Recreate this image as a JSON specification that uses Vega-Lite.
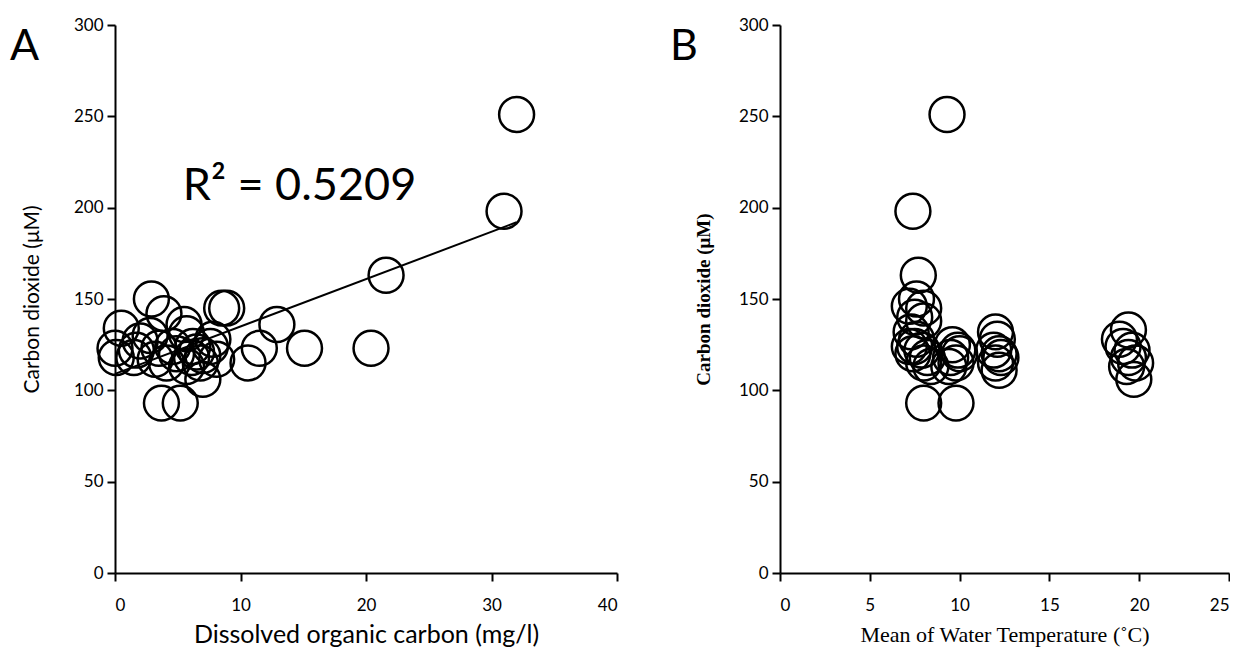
{
  "$schema": "https://vega.github.io/schema/vega-lite/v6.json",
  "background": "white",
  "padding": {"left": 10, "top": 16, "right": 0, "bottom": 2},
  "spacing": 163,
  "bounds": "flush",
  "config": {
    "view": {"stroke": null},
    "axis": {
      "grid": false,
      "domainColor": "#000",
      "domainWidth": 2,
      "tickColor": "#000",
      "tickWidth": 2,
      "tickSize": 8,
      "labelColor": "#000",
      "labelFont": "Lato",
      "labelFontSize": 17,
      "labelFontWeight": "normal",
      "titleColor": "#000",
      "titleFontWeight": "normal"
    },
    "title": {"color": "#000", "fontWeight": "normal", "font": "Lato", "fontSize": 43}
  },
  "hconcat": [
    {
      "width": 502,
      "height": 548,
      "title": {"text": "A", "anchor": "start", "frame": "group", "dx": -105, "dy": 57},
      "encoding": {
        "x": {
          "field": "doc",
          "type": "quantitative",
          "scale": {"domain": [0, 40], "nice": false, "zero": false},
          "axis": {"values": [0, 10, 20, 30, 40], "title": "Dissolved organic carbon (mg/l)", "titleFont": "Lato", "titleFontSize": 25, "labelPadding": 16, "titlePadding": 9}
        },
        "y": {
          "field": "co2",
          "type": "quantitative",
          "scale": {"domain": [0, 300], "nice": false},
          "axis": {"values": [0, 50, 100, 150, 200, 250, 300], "title": "Carbon dioxide (μM)", "titleFont": "Lato", "titleFontSize": 21, "labelPadding": 4, "titlePadding": 31}
        }
      },
      "layer": [
        {
          "data": {"values": [
            {"doc": 32.0, "co2": 251}, {"doc": 31.0, "co2": 198}, {"doc": 21.6, "co2": 163},
            {"doc": 20.4, "co2": 123}, {"doc": 15.1, "co2": 123}, {"doc": 12.9, "co2": 136},
            {"doc": 11.5, "co2": 123}, {"doc": 10.6, "co2": 115}, {"doc": 8.5, "co2": 145},
            {"doc": 8.9, "co2": 145}, {"doc": 3.7, "co2": 93}, {"doc": 5.2, "co2": 93},
            {"doc": 2.9, "co2": 150}, {"doc": 3.9, "co2": 142}, {"doc": 0.5, "co2": 134},
            {"doc": 0.0, "co2": 123}, {"doc": 0.1, "co2": 118}, {"doc": 2.8, "co2": 130},
            {"doc": 2.0, "co2": 127}, {"doc": 1.7, "co2": 122}, {"doc": 1.5, "co2": 118},
            {"doc": 3.5, "co2": 123}, {"doc": 3.2, "co2": 117}, {"doc": 4.1, "co2": 115},
            {"doc": 5.5, "co2": 136}, {"doc": 5.7, "co2": 131}, {"doc": 6.2, "co2": 124},
            {"doc": 6.1, "co2": 118}, {"doc": 6.8, "co2": 115}, {"doc": 5.7, "co2": 113},
            {"doc": 7.0, "co2": 106}, {"doc": 7.6, "co2": 124}, {"doc": 7.8, "co2": 128},
            {"doc": 7.0, "co2": 119}, {"doc": 8.1, "co2": 117}, {"doc": 4.9, "co2": 120},
            {"doc": 4.6, "co2": 124}, {"doc": 6.5, "co2": 121}
          ]},
          "mark": {"type": "point", "shape": "circle", "filled": false, "stroke": "#000", "strokeWidth": 2.5, "size": 1220, "opacity": 1}
        },
        {
          "data": {"values": [{"doc": 0, "co2": 109}, {"doc": 32, "co2": 192}]},
          "mark": {"type": "line", "color": "#000", "strokeWidth": 2}
        },
        {
          "data": {"values": [{"doc": 14.7, "co2": 204, "label": "R² = 0.5209"}]},
          "mark": {"type": "text", "font": "Lato", "fontSize": 45, "baseline": "alphabetic", "align": "center", "color": "#000"},
          "encoding": {"text": {"field": "label", "type": "nominal"}}
        }
      ]
    },
    {
      "width": 449,
      "height": 548,
      "title": {"text": "B", "anchor": "start", "frame": "group", "dx": -110, "dy": 57},
      "data": {"values": [
        {"temp": 9.3, "co2": 251}, {"temp": 7.4, "co2": 198}, {"temp": 7.7, "co2": 163},
        {"temp": 7.2, "co2": 146}, {"temp": 7.6, "co2": 150}, {"temp": 8.0, "co2": 145},
        {"temp": 7.5, "co2": 140}, {"temp": 8.0, "co2": 138}, {"temp": 7.3, "co2": 132},
        {"temp": 7.6, "co2": 128}, {"temp": 7.2, "co2": 124}, {"temp": 7.5, "co2": 124},
        {"temp": 7.9, "co2": 122}, {"temp": 7.4, "co2": 120}, {"temp": 8.2, "co2": 118},
        {"temp": 8.0, "co2": 115}, {"temp": 8.4, "co2": 113}, {"temp": 8.0, "co2": 93},
        {"temp": 9.8, "co2": 93}, {"temp": 9.6, "co2": 125}, {"temp": 9.9, "co2": 122},
        {"temp": 9.5, "co2": 118}, {"temp": 9.8, "co2": 115}, {"temp": 9.4, "co2": 113},
        {"temp": 10.0, "co2": 120}, {"temp": 12.0, "co2": 132}, {"temp": 12.1, "co2": 128},
        {"temp": 11.9, "co2": 122}, {"temp": 12.2, "co2": 120}, {"temp": 12.3, "co2": 118},
        {"temp": 12.0, "co2": 115}, {"temp": 12.2, "co2": 111}, {"temp": 19.4, "co2": 133},
        {"temp": 18.9, "co2": 128}, {"temp": 19.6, "co2": 122}, {"temp": 19.1, "co2": 124},
        {"temp": 19.4, "co2": 118}, {"temp": 19.8, "co2": 115}, {"temp": 19.3, "co2": 113},
        {"temp": 19.7, "co2": 106}
      ]},
      "mark": {"type": "point", "shape": "circle", "filled": false, "stroke": "#000", "strokeWidth": 2.5, "size": 1220, "opacity": 1},
      "encoding": {
        "x": {
          "field": "temp",
          "type": "quantitative",
          "scale": {"domain": [0, 25], "nice": false},
          "axis": {"values": [0, 5, 10, 15, 20, 25], "title": "Mean of Water Temperature (˚C)", "titleFont": "Liberation Serif", "titleFontSize": 22, "labelPadding": 16, "titlePadding": 11}
        },
        "y": {
          "field": "co2",
          "type": "quantitative",
          "scale": {"domain": [0, 300], "nice": false},
          "axis": {"values": [0, 50, 100, 150, 200, 250, 300], "title": "Carbon dioxide (μM)", "titleFont": "Liberation Serif", "titleFontSize": 19, "titleFontWeight": "bold", "labelPadding": 4, "titlePadding": 25}
        }
      }
    }
  ]
}
